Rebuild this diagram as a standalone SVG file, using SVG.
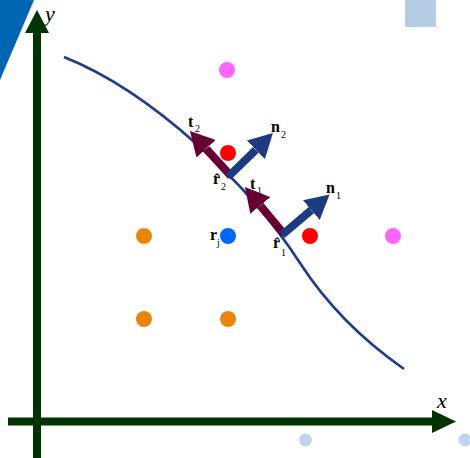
<svg xmlns="http://www.w3.org/2000/svg" width="470" height="458" viewBox="0 0 470 458">
<defs>
<style>
.axis{stroke:#003300;stroke-width:8;fill:none}
.axhead{fill:#003300}
.curve{stroke:#1e3c8c;stroke-width:2.6;fill:none}
.tvec{stroke:#660033;stroke-width:8;fill:none}
.nvec{stroke:#1e3a80;stroke-width:8;fill:none}
.lbl{font-family:"Liberation Serif","Times New Roman",serif;font-weight:bold;font-size:16px;fill:#000}
.sub{font-family:"Liberation Serif","Times New Roman",serif;font-size:10px;fill:#000}
.axl{font-family:"Liberation Serif","Times New Roman",serif;font-style:italic;font-size:22px;fill:#000}
.mag{fill:#ff66ff}.red{fill:#ff0000}.blu{fill:#0066ff}.org{fill:#e8860c}.lb{fill:#c0d4f2}
</style>
<marker id="ht" markerUnits="userSpaceOnUse" markerWidth="25" markerHeight="26" refX="0" refY="13" orient="auto" viewBox="0 0 25 26">
<path d="M0,0 L24,13 L0,26 z" fill="#660033"/>
</marker>
<marker id="hn" markerUnits="userSpaceOnUse" markerWidth="25" markerHeight="26" refX="0" refY="13" orient="auto" viewBox="0 0 25 26">
<path d="M0,0 L24,13 L0,26 z" fill="#1e3a80"/>
</marker>
</defs>
<rect width="470" height="458" fill="#ffffff"/>
<polygon points="0,0 34,0 0,80" fill="#0066b3"/>
<rect x="405" y="0" width="31" height="27" fill="#b4cce4"/>
<g id="axes">
<line class="axis" x1="37" y1="458" x2="37" y2="32"/>
<polygon class="axhead" points="25,33 37,10 49,33"/>
<line class="axis" x1="8" y1="421.5" x2="433" y2="421.5"/>
<polygon class="axhead" points="432,410 456,421.5 432,433"/>
<text class="axl" x="45" y="21">y</text>
<text class="axl" x="437" y="408">x</text>
</g>
<g id="curve">
<path class="curve" d="M64,57 C154,93 250,185.5 300,263 C330,309.5 369,344.5 404,369"/>
</g>
<g id="nodes">
<circle id="p-mag1" class="mag" cx="227" cy="70" r="8"/>
<circle id="p-mag2" class="mag" cx="393" cy="236" r="8"/>
<circle id="p-red1" class="red" cx="228" cy="153" r="8"/>
<circle id="p-red2" class="red" cx="310" cy="236" r="8"/>
<circle id="p-rj" class="blu" cx="228" cy="236" r="8"/>
<circle id="p-org1" class="org" cx="144" cy="236" r="8"/>
<circle id="p-org2" class="org" cx="144" cy="319" r="8"/>
<circle id="p-org3" class="org" cx="228" cy="319" r="8"/>
<circle id="p-lb1" class="lb" cx="305.5" cy="440" r="6.5"/>
<circle id="p-lb2" class="lb" cx="465" cy="440" r="6.5"/>
</g>
<g id="connectors">
<line class="tvec" x1="231" y1="176" x2="206.1" y2="148.7" marker-end="url(#ht)"/>
<line class="nvec" x1="228" y1="177" x2="255.8" y2="149.8" marker-end="url(#hn)"/>
<line class="tvec" x1="284" y1="234" x2="260.3" y2="205.5" marker-end="url(#ht)"/>
<line class="nvec" x1="282" y1="235" x2="311.3" y2="210.1" marker-end="url(#hn)"/>
</g>
<g id="labels">
<g id="lbl-t2"><text class="lbl" x="188" y="127">t</text><text class="sub" x="195" y="132">2</text></g>
<g id="lbl-n2"><text class="lbl" x="271" y="132">n</text><text class="sub" x="281" y="138">2</text></g>
<g id="lbl-r2"><text class="lbl" x="213" y="184">r̂</text><text class="sub" x="221" y="190">2</text></g>
<g id="lbl-t1"><text class="lbl" x="250" y="189">t</text><text class="sub" x="257" y="194">1</text></g>
<g id="lbl-n1"><text class="lbl" x="326" y="193">n</text><text class="sub" x="336" y="199">1</text></g>
<g id="lbl-r1"><text class="lbl" x="273" y="248">r̂</text><text class="sub" x="281" y="256">1</text></g>
<g id="lbl-rj"><text class="lbl" x="210" y="240">r</text><text class="sub" x="217" y="246">j</text></g>
</g>
</svg>
